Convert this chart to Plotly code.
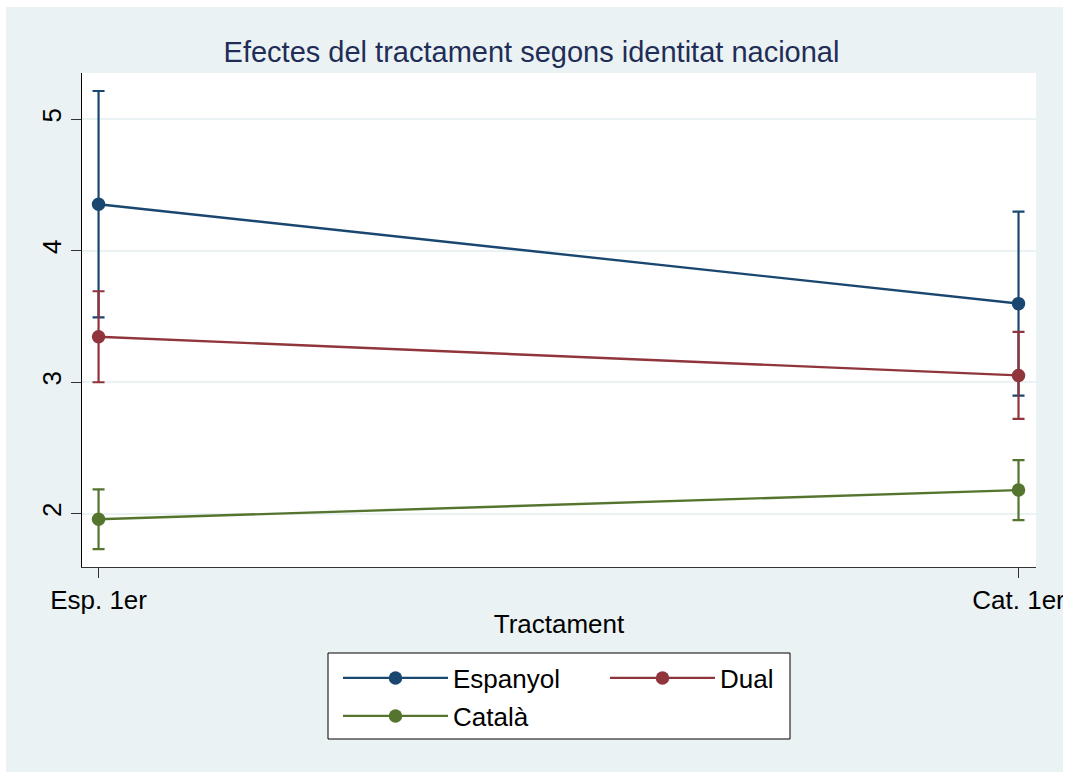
import plotly.graph_objects as go

categories = ["Esp. 1er", "Cat. 1er"]
groups = ["Espanyol", "Dual", "Català"]
means = {
    "Espanyol": [4.354, 3.598],
    "Dual": [3.346, 3.052],
    "Català": [1.958, 2.180],
}
ci_half = {
    "Espanyol": [0.861, 0.699],
    "Dual": [0.346, 0.331],
    "Català": [0.227, 0.228],
}
colors = {"Espanyol": "#1a476f", "Dual": "#90353b", "Català": "#55752f"}
legend_of = {"Espanyol": "legend", "Dual": "legend", "Català": "legend2"}

FONT = "Arial, Liberation Sans, sans-serif"
W, H = 1072, 772
L, R, T, B = 82, 1036, 73, 567  # plot area pixels


def px(x):
    return (x - L) / (R - L)


def py(y):
    return (B - y) / (B - T)


fig = go.Figure()
for g in groups:
    fig.add_trace(go.Scatter(
        x=categories, y=means[g], name=g, mode="lines+markers",
        line=dict(color=colors[g], width=2.4),
        marker=dict(color=colors[g], size=13.5),
        error_y=dict(type="data", array=ci_half[g], visible=True,
                     color=colors[g], thickness=2.2, width=6),
        legend=legend_of[g],
    ))

shapes = [
    # legend frame
    dict(type="rect", xref="paper", yref="paper", x0=px(328), x1=px(790),
         y0=py(739), y1=py(653), fillcolor="white",
         line=dict(color="black", width=1), layer="above"),
    # white outer frame strips
    dict(type="rect", xref="paper", yref="paper", x0=px(-5), x1=px(6),
         y0=-1, y1=2, fillcolor="white", line=dict(width=0), layer="above"),
    dict(type="rect", xref="paper", yref="paper", x0=-1, x1=2,
         y0=py(7), y1=py(-5), fillcolor="white", line=dict(width=0), layer="above"),
    dict(type="rect", xref="paper", yref="paper", x0=px(1063), x1=px(1080),
         y0=-1, y1=2, fillcolor="white", line=dict(width=0), layer="above"),
]

leg_common = dict(orientation="h", xanchor="left", yanchor="middle",
                  bgcolor="rgba(0,0,0,0)", borderwidth=0,
                  font=dict(family=FONT, size=26, color="black"),
                  itemwidth=105, entrywidth=147, entrywidthmode="pixels",
                  itemclick=False, itemdoubleclick=False)

fig.update_layout(
    width=W, height=H,
    margin=dict(l=L, r=W - R, t=T, b=H - B, autoexpand=False),
    paper_bgcolor="#eaf2f3",
    plot_bgcolor="white",
    title=dict(text="Efectes del tractament segons identitat nacional",
               x=531.5 / W, xref="container", xanchor="center",
               y=1 - 52 / H, yref="container", yanchor="middle",
               font=dict(family=FONT, size=29, color="#1f2d57")),
    xaxis=dict(type="category", range=[-0.018, 1.019],
               showgrid=False, zeroline=False,
               showline=True, linecolor="#333333", linewidth=1,
               ticks="outside", ticklen=10, tickcolor="#333333", tickwidth=1,
               tickfont=dict(family=FONT, size=26, color="black"),
               title=dict(text="Tractament", standoff=0,
                          font=dict(family=FONT, size=26, color="black")),
               automargin=False, fixedrange=True),
    yaxis=dict(range=[1.595, 5.352], tickvals=[2, 3, 4, 5],
               showgrid=True, gridcolor="#eaf2f3", gridwidth=1.5,
               zeroline=False,
               showline=True, linecolor="black", linewidth=1,
               ticks="outside", ticklen=10, tickcolor="#333333", tickwidth=1,
               tickangle=-90,
               tickfont=dict(family=FONT, size=26, color="black"),
               automargin=False, fixedrange=True),
    legend=dict(x=px(338), y=py(678), **leg_common),
    legend2=dict(x=px(338), y=py(716), **leg_common),
    shapes=shapes,
    showlegend=True,
)

fig.write_html(
    "out.html",
    config={"displayModeBar": False},
    post_script="document.body.style.margin='0';document.body.style.overflow='hidden';",
)
